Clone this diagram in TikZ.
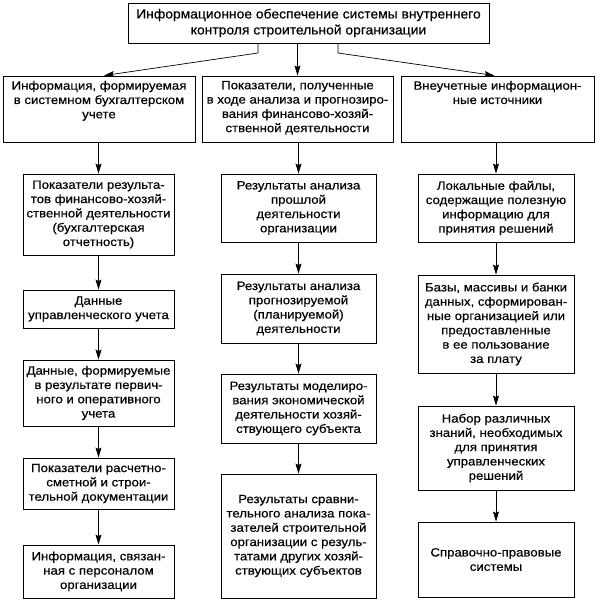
\documentclass[tikz,border=0pt]{standalone}
\usepackage{fontspec}
\setmainfont{Liberation Sans}[FakeStretch=1.1, FakeBold=0.4]
\newfontfamily\topfont{Liberation Sans}[FakeStretch=1.05, FakeBold=0.4]
\usetikzlibrary{arrows.meta}
\begin{document}
\begin{tikzpicture}[x=1pt,y=1pt,
  box/.style={draw, line width=0.9pt, inner sep=0pt, align=center,
    font=\fontsize{12}{14.3}\selectfont},
  topbox/.style={box, font=\topfont\fontsize{13.2}{16}\selectfont},
  arr/.style={line width=0.7pt, -{Stealth[length=10pt,width=6pt,inset=1.5pt]}}]
\useasboundingbox (0,0) rectangle (600,-601);
% top
\node[topbox, minimum width=361pt, minimum height=40pt] (top) at (308.5,-23)
  {Информационное обеспечение системы внутреннего\\контроля строительной организации};
% headers (text at top)
\node[box, minimum width=192pt, minimum height=66pt] (h1) at (99,-109)
  {\begin{minipage}[c][66pt][t]{192pt}\centering\vspace{5pt}%
   Информация, формируемая\\в системном бухгалтерском\\учете\end{minipage}};
\node[box, minimum width=191pt, minimum height=66pt] (h2) at (297.5,-109)
  {\begin{minipage}[c][66pt][t]{191pt}\centering\vspace{5pt}%
   Показатели, полученные\\в ходе анализа и прогнозиро-\\вания финансово-хозяй-\\ственной деятельности\end{minipage}};
\node[box, minimum width=193pt, minimum height=66pt] (h3) at (497.5,-109)
  {\begin{minipage}[c][66pt][t]{193pt}\centering\vspace{5pt}%
   Внеучетные информацион-\\ные источники\end{minipage}};
% left column
\node[box, minimum width=151pt, minimum height=81pt] (L1) at (98.5,-214.5)
  {Показатели результа-\\тов финансово-хозяй-\\ственной деятельности\\(бухгалтерская\\отчетность)};
\node[box, minimum width=151pt, minimum height=38pt] (L2) at (98.5,-309)
  {Данные\\управленческого учета};
\node[box, minimum width=151pt, minimum height=66pt] (L3) at (98.5,-393)
  {Данные, формируемые\\в результате первич-\\ного и оперативного\\учета};
\node[box, minimum width=151pt, minimum height=51pt] (L4) at (98.5,-483.5)
  {Показатели расчетно-\\сметной и строи-\\тельной документации};
\node[box, minimum width=151pt, minimum height=53pt] (L5) at (98.5,-571.5)
  {Информация, связан-\\ная с персоналом\\организации};
% middle column
\node[box, minimum width=155pt, minimum height=68pt] (M1) at (298.5,-208)
  {Результаты анализа\\прошлой\\деятельности\\организации};
\node[box, minimum width=155pt, minimum height=69pt] (M2) at (298.5,-308.5)
  {Результаты анализа\\прогнозируемой\\(планируемой)\\деятельности};
\node[box, minimum width=155pt, minimum height=69pt] (M3) at (298.5,-408.5)
  {Результаты моделиро-\\вания экономической\\деятельности хозяй-\\ствующего субъекта};
\node[box, minimum width=155pt, minimum height=124pt] (M4) at (298.5,-536)
  {Результаты сравни-\\тельного анализа пока-\\зателей строительной\\организации с резуль-\\татами других хозяй-\\ствующих субъектов};
% right column
\node[box, minimum width=156pt, minimum height=68pt] (R1) at (496,-208)
  {Локальные файлы,\\содержащие полезную\\информацию для\\принятия решений};
\node[box, minimum width=156pt, minimum height=98pt] (R2) at (496,-324)
  {Базы, массивы и банки\\данных, сформирован-\\ные организацией или\\предоставленные\\в ее пользование\\за плату};
\node[box, minimum width=156pt, minimum height=84pt] (R3) at (496,-448)
  {Набор различных\\знаний, необходимых\\для принятия\\управленческих\\решений};
\node[box, minimum width=156pt, minimum height=75pt] (R4) at (496,-559.5)
  {Справочно-правовые\\системы};
% connectors from top
\coordinate (bl) at (258,-53);
\coordinate (br) at (338,-53);
\draw[arr] (bl |- top.south) -- (bl) -- ([xshift=5pt]h1.north);
\draw[arr] (top.south -| h2.north) -- (h2.north);
\draw[arr] (br |- top.south) -- (br) -- ([xshift=-3pt]h3.north);
% column connectors
\draw[arr] (L1.north |- h1.south) -- (L1.north);
\draw[arr] (L1) -- (L2);
\draw[arr] (L2.south) -- (L3.north);
\draw[arr] (L3.south) -- (L4.north);
\draw[arr] (L4.south) -- (L5.north);
\draw[arr] (M1.north |- h2.south) -- (M1.north);
\draw[arr] (M1.south) -- (M2.north);
\draw[arr] (M2.south) -- (M3.north);
\draw[arr] (M3.south) -- (M4.north);
\draw[arr] (R1.north |- h3.south) -- (R1.north);
\draw[arr] (R1.south) -- (R2.north);
\draw[arr] (R2.south) -- (R3.north);
\draw[arr] (R3.south) -- (R4.north);
\end{tikzpicture}
\end{document}
